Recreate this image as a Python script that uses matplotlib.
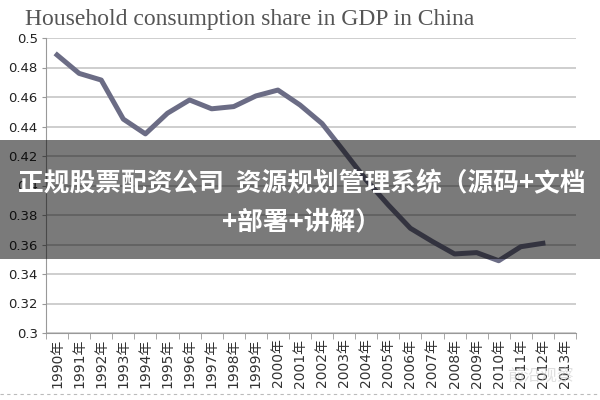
import numpy as np
import matplotlib
matplotlib.use("Agg")
import matplotlib.pyplot as plt
from matplotlib.patches import Rectangle
from matplotlib.lines import Line2D

plt.rcParams['font.family'] = ['DejaVu Sans', 'Noto Sans CJK SC']

# data
years = [str(y) + "年" for y in range(1990, 2014)]
share = [0.4885, 0.476, 0.4715, 0.445, 0.435, 0.449, 0.458, 0.452, 0.4535, 0.4607,
         0.4647, 0.4546, 0.442, 0.423, 0.4037, 0.3868, 0.371, 0.362, 0.3536, 0.3545,
         0.349, 0.3585, 0.3608, np.nan]
yticks = [0.3, 0.32, 0.34, 0.36, 0.38, 0.4, 0.42, 0.44, 0.46, 0.48, 0.5]
ytick_labels = ["0.3", "0.32", "0.34", "0.36", "0.38", "0.4", "0.42", "0.44", "0.46", "0.48", "0.5"]

fig = plt.figure(figsize=(6, 4), dpi=100)
ax = fig.add_axes([0.0767, 0.1675, 0.8833, 0.7375])

x = np.arange(len(years))
ax.plot(x, share, color="#6b6c85", lw=3.6, solid_joinstyle="round", zorder=3)

ax.set_xlim(-0.5, len(years) - 0.5)
ax.set_ylim(0.3, 0.5)
ax.set_yticks(yticks)
ax.set_yticklabels(ytick_labels, fontsize=9.5, color="#222222")
ax.yaxis.grid(True, color="#c6c6c6", lw=1.2)
ax.set_axisbelow(True)

# category labels at centers, tick marks on boundaries
ax.set_xticks(x)
ax.set_xticklabels(years, rotation=90, fontsize=10, color="#333333",
                   family=['DejaVu Sans', 'Noto Sans CJK SC'])
ax.tick_params(axis="x", length=0, pad=4)
ax.set_xticks(np.arange(-0.5, len(years)), minor=True)
ax.tick_params(axis="x", which="minor", length=4, color="#999999")
ax.tick_params(axis="y", length=3, color="#999999", pad=3)

for s in ["top", "right"]:
    ax.spines[s].set_visible(False)
ax.spines["left"].set_color("#999999")
ax.spines["bottom"].set_color("#999999")

fig.text(0.042, 0.952, "Household consumption share in GDP in China",
         family="Liberation Serif", fontsize=17, color="#555555", va="center")

# dark overlay band with caption
fig.patches.append(Rectangle((0, 0.3525), 1, 0.2975, transform=fig.transFigure,
                             facecolor="black", alpha=0.52, zorder=5))
fig.text(0.503, 0.54, "正规股票配资公司  资源规划管理系统（源码+文档",
         family=['Noto Sans CJK SC', 'DejaVu Sans'], fontsize=18.5, fontweight="bold",
         color="white", ha="center", va="center", zorder=6)
fig.text(0.503, 0.445, "+部署+讲解）",
         family=['Noto Sans CJK SC', 'DejaVu Sans'], fontsize=18.5, fontweight="bold",
         color="white", ha="center", va="center", zorder=6)

# faint watermark and dashed separator at the bottom
fig.text(0.9, 0.06, "前沿观察", family=['Noto Sans CJK SC', 'DejaVu Sans'],
         fontsize=12, color="#cccccc", alpha=0.6, ha="center", va="center")
fig.lines.append(Line2D([0, 1], [0.015, 0.015], transform=fig.transFigure,
                        color="#bbbbbb", lw=0.8, ls=(0, (3, 3))))

fig.savefig("out.png", dpi=100)
